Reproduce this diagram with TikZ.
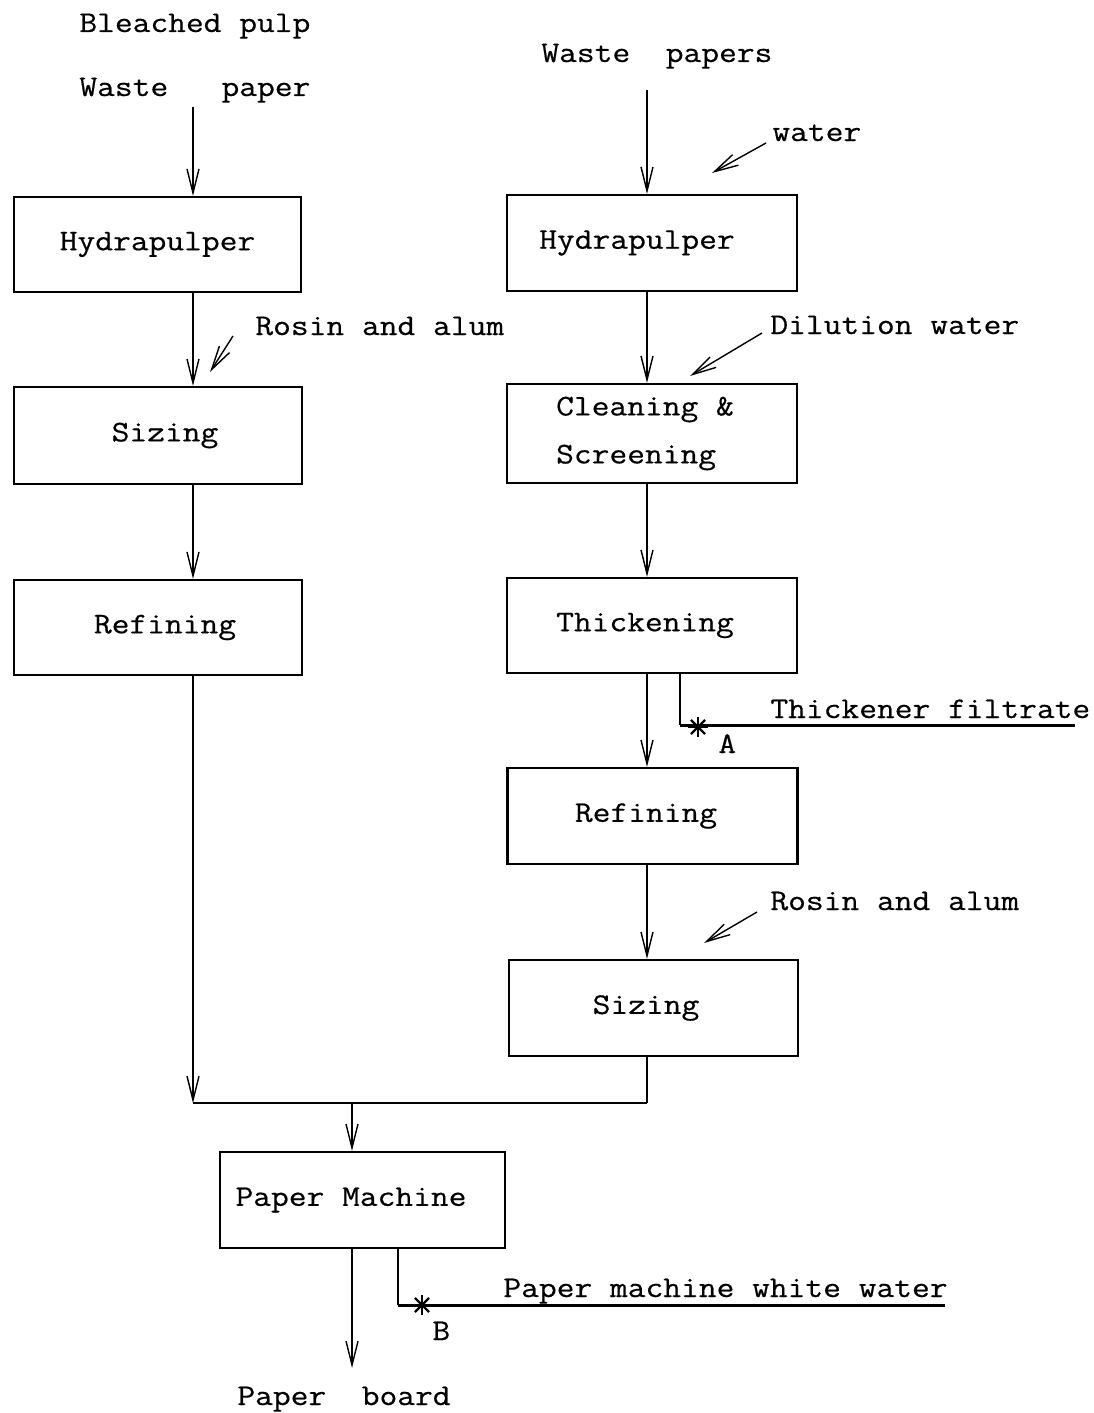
\documentclass[tikz,border=0pt]{standalone}
\usepackage{fontspec}
\setmainfont[FakeStretch=1.15,FakeBold=0.5]{Latin Modern Mono}
\usetikzlibrary{arrows.meta}
\begin{document}
\begin{tikzpicture}[x=0.5pt,y=-0.5pt,
  every node/.style={font=\fontsize{15}{24}\selectfont},
  box/.style={draw, line width=1.2pt, inner sep=0pt, align=left},
  lbl/.style={anchor=base west, inner sep=0pt},
  arr/.style={line width=0.7pt, -{Straight Barb[length=12pt,width=6pt]}},
  flow/.style={line width=0.7pt},
  recyc/.style={line width=1.5pt},
  astk/.style={line width=1.1pt}]
\useasboundingbox (0,0) rectangle (1093,1413);

% boxes
\node[box, minimum width=143.5pt, minimum height=47.5pt] (hpL) at (157.5,244.5) {Hydrapulper};
\node[box, minimum width=144pt, minimum height=48.5pt] (szL) at (158,435.5) {\hspace*{7pt}Sizing};
\node[box, minimum width=144pt, minimum height=47.5pt] (rfL) at (158,627.5) {\hspace*{7pt}Refining};
\node[box, minimum width=145pt, minimum height=48pt] (hpR) at (652,243) {Hydrapulper\hspace*{15pt}};
\node[box, minimum width=145pt, minimum height=49.5pt] (csR) at (652,433.5) {Cleaning \&\hspace*{7pt}\\Screening};
\node[box, minimum width=145pt, minimum height=47.5pt] (thR) at (652,625.5) {Thickening\hspace*{7pt}};
\node[box, minimum width=145pt, minimum height=48pt] (rfR) at (652.5,816) {Refining\hspace*{6.5pt}};
\node[box, minimum width=144.5pt, minimum height=48pt] (szR) at (653.5,1008) {Sizing\hspace*{7.5pt}};
\node[box, minimum width=142.5pt, minimum height=48pt] (pm) at (362.5,1200) {Paper Machine\hspace*{11.5pt}};

% labels
\node[lbl] (bp) at (79,32) {Bleached pulp};
\node[lbl] (wpL) at (79,96) {Waste~~~paper};
\node[lbl] (wpR) at (541,62) {Waste~~papers};
\node[lbl] (wat) at (772,141) {water};
\node[lbl] (rosL) at (255,335) {Rosin and alum};
\node[lbl] (dil) at (770,334) {Dilution water};
\node[lbl] (thf) at (770,718) {Thickener filtrate};
\node[lbl] (rosR) at (770,910) {Rosin and alum};
\node[lbl] (pmw) at (503,1297) {Paper machine white water};
\node[lbl] (pb) at (237,1405) {Paper~~board};
\node[lbl] (lA) at (718,753) {A};
\node[lbl] (lB) at (432,1340) {B};

% coordinates
\coordinate (inL) at (193,107);
\coordinate (inR) at (647,90);
\coordinate (jL) at (193,1103);
\coordinate (jR) at (647,1103);
\coordinate (jM) at (352,1103);
\coordinate (outB) at (352,1368);
\coordinate (aC) at (680,725);
\coordinate (aE) at (1075,725);
\coordinate (aS) at (698,727);
\coordinate (bC) at (398,1305);
\coordinate (bE) at (945,1305);
\coordinate (bS) at (422,1305);
\coordinate (watS) at (766,143);
\coordinate (watT) at (712,173);
\coordinate (rosLS) at (233,336);
\coordinate (rosLT) at (210,372);
\coordinate (dilS) at (762,333);
\coordinate (dilT) at (690,376);
\coordinate (rosRS) at (757,912);
\coordinate (rosRT) at (704,943);

% left column
\draw[arr] (inL) -- (inL |- hpL.north);
\draw[arr] (hpL.south -| inL) -- (szL.north -| inL);
\draw[arr] (rosLS) -- (rosLT);
\draw[arr] (szL.south -| inL) -- (rfL.north -| inL);
\draw[arr] (rfL.south -| inL) -- (jL);

% right column
\draw[arr] (inR) -- (inR |- hpR.north);
\draw[arr] (watS) -- (watT);
\draw[arr] (hpR.south -| inR) -- (csR.north -| inR);
\draw[arr] (dilS) -- (dilT);
\draw[arr] (csR.south -| inR) -- (thR.north -| inR);
\draw[arr] (thR.south -| inR) -- (rfR.north -| inR);
\draw[arr] (rfR.south -| inR) -- (szR.north -| inR);
\draw[arr] (rosRS) -- (rosRT);
\draw[flow] (szR.south -| jR) -- (jR);

% thickener filtrate
\draw[flow] (thR.south -| aC) -- (aC);
\draw[recyc] (aC) -- (aE);
\foreach \a in {0,45,90,135} \draw[astk] (aS) ++(\a:10) -- ++(\a+180:20);

% merge and paper machine
\draw[flow] (jL) -- (jR);
\draw[arr] (jM) -- (jM |- pm.north);
\draw[arr] (pm.south -| outB) -- (outB);

% white water
\draw[flow] (pm.south -| bC) -- (bC);
\draw[recyc] (bC) -- (bE);
\foreach \a in {0,45,90,135} \draw[astk] (bS) ++(\a:10) -- ++(\a+180:20);
\end{tikzpicture}
\end{document}
